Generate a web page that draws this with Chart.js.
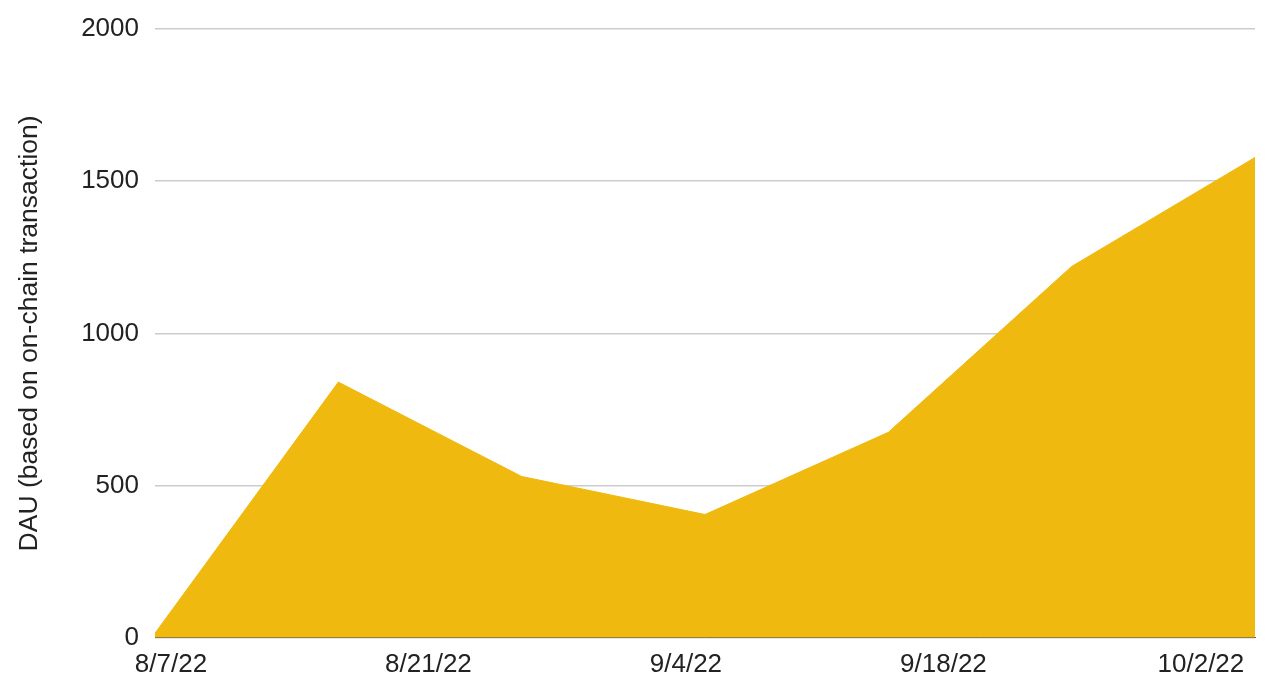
<!DOCTYPE html>
<html>
<head>
<meta charset="utf-8">
<title>DAU</title>
<script src="https://cdn.jsdelivr.net/npm/chart.js@4"></script>
<style>
  html, body { margin: 0; padding: 0; background: #fff; }
  canvas { display: block; }
</style>
</head>
<body>
<canvas id="dauChart" width="1280" height="691"></canvas>
<script>
/* =========================
   DATA
========================= */

const xLabels = ["8/7/22", "8/21/22", "9/4/22", "9/18/22", "10/2/22"];
const dauValues = [15, 840, 530, 405, 675, 1220, 1578];
const yTicks = [0, 500, 1000, 1500, 2000];

/* =========================
   CHART
========================= */

const FONT = "'Liberation Sans', Arial, sans-serif";
const TEXT = "#222222";

// sheets puts the date labels on their own spacing, not on the points
const labelStart = 0.087;
const labelStep = 1.4045;

new Chart(document.getElementById("dauChart"), {
  type: "line",
  data: {
    datasets: [{
      label: "DAU",
      data: dauValues.map((v, i) => ({ x: i, y: v })),
      backgroundColor: "#f0b90f",
      borderColor: "#f0b90f",
      borderWidth: 1,
      pointRadius: 0,
      tension: 0,
      fill: "origin"
    }]
  },
  options: {
    responsive: false,
    animation: false,
    layout: { padding: { left: 10, right: 25, top: 8, bottom: 0 } },
    plugins: {
      legend: { display: false },
      tooltip: { enabled: false }
    },
    scales: {
      x: {
        type: "linear",
        min: 0,
        max: dauValues.length - 1,
        grid: { display: false, drawTicks: false },
        border: { display: true, color: "#555555", width: 1 },
        afterBuildTicks: scale => {
          scale.ticks = xLabels.map((_, i) => ({ value: labelStart + i * labelStep }));
        },
        ticks: {
          padding: 11,
          maxRotation: 0,
          autoSkip: false,
          color: TEXT,
          font: { family: FONT, size: 26 },
          callback: (value, index) => xLabels[index]
        }
      },
      y: {
        min: yTicks[0],
        max: yTicks[yTicks.length - 1],
        afterBuildTicks: scale => {
          scale.ticks = yTicks.map(v => ({ value: v }));
        },
        afterFit: scale => { scale.width = 145; },
        grid: { color: "#cccccc", lineWidth: 1.5, drawTicks: false },
        border: { display: false },
        ticks: {
          padding: 16,
          color: TEXT,
          font: { family: FONT, size: 26, lineHeight: 1 },
          callback: value => String(value)
        },
        title: {
          display: true,
          text: "DAU (based on on-chain transaction)",
          color: TEXT,
          font: { family: FONT, size: 26.5 },
          padding: { top: 4, bottom: 4 }
        }
      }
    }
  }
});
</script>
</body>
</html>
